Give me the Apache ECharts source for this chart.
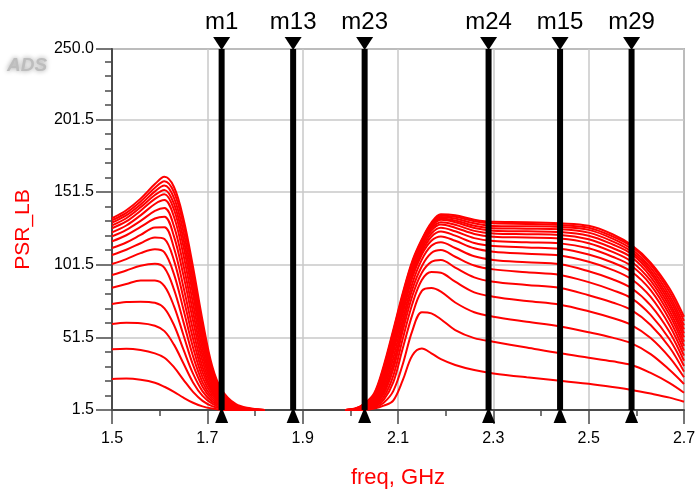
<!DOCTYPE html>
<html><head><meta charset="utf-8">
<script src="https://cdn.jsdelivr.net/npm/echarts@6/dist/echarts.min.js"></script>
<style>html,body{margin:0;padding:0;background:#fff}#c{width:696px;height:491px}</style>
</head><body><div id="c"></div>
<script>
// ---- data ----
const freqLeft = [1.50, 1.53, 1.56, 1.59, 1.61, 1.63, 1.65, 1.67, 1.69, 1.71, 1.73, 1.76, 1.79, 1.82];
const psrLeft = [
  [133.5, 139, 147, 157, 162, 155, 133, 100, 63, 32, 15.5, 5.5, 2.7, 1.5],
  [132.1, 137.2, 145, 154.5, 159, 151.5, 129, 96, 59, 30, 14, 4.8, 2.3, 1.5],
  [130.5, 135.5, 143, 152, 156, 147.5, 124, 91, 55, 27.5, 12.8, 4.4, 2.2, 1.5],
  [128.6, 133.5, 141, 149.5, 153, 143.5, 119, 86, 51, 25.5, 11.8, 4.1, 2.1, 1.5],
  [126.6, 131.3, 138.7, 146.8, 150, 139.5, 114, 81, 47, 23.5, 10.8, 3.8, 2.0, 1.5],
  [123.8, 128.5, 135.5, 143.3, 146, 134.5, 108, 75, 43, 21.5, 9.8, 3.5, 1.9, 1.5],
  [121, 125.5, 131.7, 138.5, 140.5, 128, 101, 69, 39, 19.5, 9, 3.2, 1.8, 1.5],
  [117.6, 121.8, 127.5, 133.3, 134.5, 121, 94, 63, 35, 17.5, 8.2, 3.0, 1.7, 1.5],
  [113, 116.8, 122, 127.2, 127.3, 113, 86, 56.5, 31, 15.5, 7.4, 2.8, 1.7, 1.5],
  [108.2, 111.8, 116.3, 120.3, 119.2, 104.5, 78.5, 50.5, 27.5, 13.8, 6.6, 2.6, 1.6, 1.5],
  [102, 105.4, 109.5, 112.1, 110, 95, 70.5, 44.5, 24, 12, 5.9, 2.4, 1.6, 1.5],
  [94.4, 97.5, 100.8, 102.1, 99.3, 84.5, 62, 38.5, 20.5, 10.3, 5.2, 2.2, 1.6, 1.5],
  [85.7, 88.2, 90.7, 90.6, 86.8, 73, 53, 32.5, 17.5, 8.8, 4.6, 2.1, 1.5, 1.5],
  [74.5, 75.8, 76.1, 75.3, 71.5, 60, 43, 26.5, 14.3, 7.3, 3.9, 1.9, 1.5, 1.5],
  [60.7, 61.5, 61.3, 59.5, 55.8, 46.5, 33.5, 20.5, 11.2, 5.9, 3.2, 1.8, 1.5, 1.5],
  [43.3, 43.7, 42.8, 40.5, 37.5, 31, 22.3, 14, 7.8, 4.2, 2.5, 1.6, 1.5, 1.5],
  [22.8, 23.1, 22.3, 20.3, 17.5, 14, 10, 6.5, 4, 2.5, 1.7, 1.5, 1.5, 1.5]
];
const freqRight = [1.99, 2.01, 2.03, 2.05, 2.07, 2.09, 2.11, 2.13, 2.15, 2.17, 2.19, 2.22, 2.26, 2.30, 2.37, 2.44, 2.50, 2.55, 2.59, 2.63, 2.67, 2.70];
const psrRight = [
  [1.5, 2.5, 6.0, 13, 32, 56.6, 82, 104, 119, 130.5, 136.2, 135.5, 132.5, 131.0, 130.8, 130.0, 128.3, 122.5, 115.0, 103.0, 85.0, 65.7],
  [1.5, 2.4, 5.7, 12.2, 30.8, 55.3, 80.9, 103.2, 118.3, 129.8, 135.3, 134.5, 131.5, 130.0, 129.6, 128.8, 127.0, 121.0, 114.0, 101.5, 82.5, 62.8],
  [1.5, 2.3, 5.4, 11.5, 29.6, 54, 79.8, 102.4, 117.6, 129, 134.4, 133.3, 130, 128.2, 128, 127.5, 125.5, 119.5, 112.3, 99.5, 80, 59.8],
  [1.5, 2.2, 5.1, 10.8, 28.4, 52.7, 78.7, 101.6, 116.9, 128.2, 133.4, 132.0, 128.4, 126.6, 126.3, 125.9, 123.6, 117.6, 110.5, 97.5, 77.5, 57.0],
  [1.5, 2.1, 4.8, 10.3, 27.2, 51.4, 77.6, 100.8, 116.2, 127.3, 132.4, 130.8, 126.8, 124.9, 124.5, 124.0, 121.5, 115.5, 108.9, 95.5, 75, 54.3],
  [1.5, 2.0, 4.5, 9.8, 26, 50, 76.5, 100, 115.5, 126.3, 130.8, 129.0, 124.8, 123.0, 122.5, 122.0, 119.0, 113.0, 106.6, 93.2, 72.5, 51.5],
  [1.5, 1.9, 4.2, 9.3, 24.8, 48.7, 75.4, 99, 114.5, 125, 129.2, 127.0, 122.7, 120.8, 120.2, 119.5, 116.3, 110.3, 103.6, 90.5, 69.7, 48.5],
  [1.5, 1.8, 3.9, 8.4, 22.5, 46, 73.2, 97, 112.5, 123, 127.0, 124.5, 119.8, 117.8, 117.0, 116.2, 112.8, 107.0, 100.6, 87.7, 66.8, 45.6],
  [1.5, 1.7, 3.6, 7.6, 20.5, 43.5, 70.5, 95, 110.5, 120.8, 124.4, 121.5, 116.5, 114.4, 113.4, 112.5, 108.5, 103.0, 96.7, 84.0, 63.5, 42.3],
  [1.5, 1.7, 3.4, 7.0, 18.5, 41, 68, 92.5, 108.5, 118.0, 121.0, 118.0, 112.8, 110.5, 109.0, 107.8, 103.5, 98.0, 91.5, 79.3, 59.5, 38.9],
  [1.5, 1.6, 3.1, 6.2, 16, 37, 64, 88.5, 105, 114.5, 117.0, 113.0, 107.3, 104.8, 103.2, 101.8, 97.0, 91.5, 85.3, 73.5, 55.0, 35.4],
  [1.5, 1.6, 2.8, 5.5, 14, 33, 60, 84.5, 100.5, 109.5, 111.6, 107.0, 101.0, 98.3, 96.3, 94.5, 89.5, 84.0, 78.4, 67.0, 50.0, 31.8],
  [1.5, 1.6, 2.6, 5.0, 12.5, 29.5, 56, 80, 96, 103.5, 104.8, 99.5, 92.8, 89.8, 87.6, 85.5, 80.5, 75.5, 70.3, 60.0, 44.5, 27.9],
  [1.5, 1.5, 2.4, 4.3, 10.5, 25, 50.5, 74.5, 91, 96.5, 96.0, 89.8, 82.5, 79.5, 76.5, 74.0, 69.5, 64.8, 60.0, 51.0, 37.5, 24.0],
  [1.5, 1.5, 2.2, 3.8, 8.5, 20.5, 44, 67, 83.5, 85.5, 83.0, 75.5, 68.8, 65.7, 62.2, 59.0, 55.0, 51.3, 47.4, 40.0, 29.0, 19.4],
  [1.5, 1.5, 1.9, 3.0, 6.5, 14.5, 33, 56, 68.8, 68.0, 64.0, 56.5, 51.0, 48.5, 44.5, 40.5, 37.5, 35.0, 32.5, 27.0, 20.0, 13.4],
  [1.5, 1.5, 1.7, 2.5, 4.5, 8, 22, 39, 43.8, 40.5, 36.5, 32.5, 29.0, 26.7, 24.0, 21.7, 19.5, 17.3, 15.3, 12.8, 10.0, 7.2]
];
const markerNames = ['m1', 'm13', 'm23', 'm24', 'm15', 'm29'];
const markerFreqs = [1.73, 1.88, 2.03, 2.29, 2.44, 2.59];
const xRange = [1.5, 2.7];
const yRange = [1.5, 250];

// ---- chart ----
const chart = echarts.init(document.getElementById('c'), null, {renderer: 'canvas'});
const FONT = 'Liberation Sans, Arial, sans-serif';
const axisColor = '#4a4a4a';
const series = [];
function addCurves(freqs, curves) {
  curves.forEach(vals => {
    series.push({
      type: 'line', symbol: 'none', smooth: 0.35, silent: true,
      lineStyle: {color: '#ff0000', width: 2},
      data: freqs.map((f, j) => [f, vals[j]]), z: 2
    });
  });
}
addCurves(freqLeft, psrLeft);
addCurves(freqRight, psrRight);
series.push({
  type: 'custom', z: 10, silent: true, clip: false,
  data: markerFreqs.map((f, i) => [f, i]),
  renderItem: function (params, api) {
    const f = api.value(0), idx = api.value(1);
    const top = api.coord([f, yRange[1]]), bot = api.coord([f, yRange[0]]);
    const x = top[0];
    return {type: 'group', children: [
      {type: 'line', shape: {x1: x, y1: top[1], x2: x, y2: bot[1]}, style: {stroke: '#000', lineWidth: 6}},
      {type: 'polygon', shape: {points: [[x - 8.5, top[1] - 12], [x + 8.5, top[1] - 12], [x, top[1] + 1]]}, style: {fill: '#000'}},
      {type: 'polygon', shape: {points: [[x - 6.5, bot[1] + 13], [x + 6.5, bot[1] + 13], [x, bot[1] - 3]]}, style: {fill: '#000'}},
      {type: 'text', style: {text: markerNames[idx], x: x, y: top[1] - 27, align: 'center', verticalAlign: 'middle', fontSize: 24, fontFamily: FONT, fill: '#000'}}
    ]};
  }
});

chart.setOption({
  animation: false,
  backgroundColor: '#fff',
  grid: {left: 112, right: 12, top: 49, bottom: 81, show: true, borderColor: '#777', borderWidth: 1.5,
         backgroundColor: 'transparent', containLabel: false, outerBoundsMode: 'none'},
  graphic: [{
    type: 'text', left: 7, top: 56,
    style: {text: 'ADS', fontStyle: 'italic', fontWeight: 'bold', fontSize: 19, fontFamily: FONT, fill: '#bdbdbd', textShadowColor: '#9a9a9a', textShadowBlur: 5}
  }],
  xAxis: {
    type: 'value', min: xRange[0], max: xRange[1], interval: 0.2,
    axisLine: {lineStyle: {color: axisColor, width: 2}},
    axisTick: {length: 14, lineStyle: {color: axisColor, width: 1.5}},
    minorTick: {show: true, splitNumber: 2, length: 6, lineStyle: {color: axisColor, width: 1.5}},
    splitLine: {show: true, lineStyle: {color: '#c8c8c8', width: 1.5}},
    axisLabel: {formatter: v => v.toFixed(1), fontSize: 16, fontFamily: FONT, color: '#000', margin: 21},
    name: 'freq, GHz', nameLocation: 'middle', nameGap: 57,
    nameTextStyle: {color: '#ff0000', fontSize: 22, fontFamily: FONT}
  },
  yAxis: {
    type: 'value', min: yRange[0], max: yRange[1], interval: 50,
    axisLine: {show: true, lineStyle: {color: axisColor, width: 2}},
    axisTick: {show: true, length: 16, lineStyle: {color: axisColor, width: 1.5}},
    minorTick: {show: true, splitNumber: 5, length: 7, lineStyle: {color: axisColor, width: 1.5}},
    splitLine: {show: true, lineStyle: {color: '#c8c8c8', width: 1.5}},
    axisLabel: {formatter: v => v.toFixed(1), fontSize: 16, fontFamily: FONT, color: '#000', margin: 18},
    name: 'PSR_LB', nameLocation: 'middle', nameGap: 78,
    nameTextStyle: {color: '#ff0000', fontSize: 21, fontFamily: FONT}
  },
  series: series
});
</script>
</body></html>
